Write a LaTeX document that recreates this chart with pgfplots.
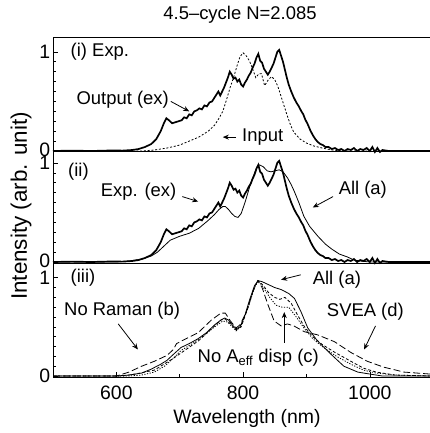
\documentclass[border=0pt]{standalone}
\usepackage{fontspec}
\setmainfont{Liberation Sans}
\usepackage{pgfplots}
\usepackage{pgfplotstable}
\pgfplotsset{compat=1.18}
\usetikzlibrary{arrows.meta}

\pgfplotstableread{
x y
500 0.0
530 0.004
560 0.0
590 0.005
610 0.004
625 0.01
635 0.02
645 0.04
655 0.07
663 0.12
670 0.20
675 0.28
679 0.33
683 0.31
688 0.28
693 0.29
698 0.30
703 0.31
707 0.34
711 0.33
715 0.37
719 0.36
723 0.40
727 0.41
731 0.43
735 0.42
739 0.46
743 0.45
747 0.49
751 0.50
755 0.54
758 0.57
761 0.60
764 0.56
767 0.60
770 0.64
773 0.69
776 0.74
779 0.80
782 0.77
785 0.73
788 0.74
791 0.70
794 0.72
797 0.67
800 0.65
803 0.69
806 0.72
809 0.76
812 0.79
815 0.84
818 0.88
821 0.94
824 0.98
827 0.91
830 0.89
833 0.83
836 0.80
839 0.77
842 0.80
845 0.84
848 0.88
851 0.94
854 1.00
857 1.02
860 0.96
863 0.90
866 0.82
869 0.74
872 0.67
876 0.60
880 0.54
884 0.49
888 0.45
892 0.40
895 0.37
898 0.32
902 0.27
906 0.21
910 0.16
914 0.12
918 0.09
922 0.07
926 0.06
930 0.04
935 0.04
940 0.02
945 0.03
950 0.01
955 0.02
960 0.0
965 0.02
970 0.01
975 0.03
980 0.0
985 0.02
990 0.01
995 0.03
1000 0.0
1004 0.04
1008 -0.01
1012 0.03
1016 -0.01
1020 0.01
1030 0.0
1095 0.0
}\expdata

\pgfplotstableread{
x y
500 0.0
640 0.0
660 0.01
680 0.03
700 0.06
715 0.10
730 0.14
745 0.20
755 0.26
762 0.33
768 0.40
774 0.52
780 0.65
785 0.74
790 0.85
795 0.95
800 0.99
805 0.96
810 0.91
815 0.83
820 0.74
825 0.78
829 0.78
834 0.66
840 0.72
845 0.75
850 0.72
855 0.65
860 0.55
865 0.45
870 0.35
875 0.26
880 0.19
890 0.12
900 0.08
912 0.05
925 0.03
940 0.01
960 0.0
1095 0.0
}\inputdata

\pgfplotstableread{
x y
500 0.0
600 0.0
620 0.01
640 0.03
655 0.06
665 0.10
675 0.16
685 0.22
700 0.26
715 0.29
730 0.34
745 0.42
755 0.48
762 0.53
768 0.56
772 0.56
777 0.53
782 0.49
787 0.46
792 0.45
797 0.49
803 0.60
810 0.75
817 0.88
822 0.96
826 0.98
832 0.96
838 0.92
844 0.91
850 0.92
857 0.93
863 0.91
870 0.85
876 0.78
881 0.71
888 0.60
896 0.46
905 0.36
918 0.26
930 0.18
940 0.13
952 0.08
965 0.05
975 0.02
985 0.01
1000 0.0
1095 0.0
}\simall

\pgfplotstableread{
x y
500 0.0
600 0.0
620 0.01
640 0.03
655 0.07
670 0.12
680 0.16
690 0.22
702 0.29
715 0.33
729 0.38
742 0.44
755 0.52
765 0.57
771 0.59
777 0.57
783 0.52
789 0.48
795 0.50
802 0.60
810 0.77
818 0.92
824 0.97
830 0.96
840 0.93
850 0.90
860 0.88
872 0.84
881 0.79
891 0.66
902 0.49
917 0.36
939 0.22
959 0.10
981 0.04
1000 0.02
1020 0.0
1095 0.0
}\cA

\pgfplotstableread{
x y
500 0.0
600 0.0
620 0.04
640 0.10
660 0.15
680 0.21
690 0.27
695 0.33
710 0.38
729 0.44
750 0.57
765 0.64
772 0.64
780 0.56
789 0.49
795 0.52
805 0.65
815 0.85
823 0.97
830 0.90
839 0.73
849 0.56
860 0.51
870 0.53
880 0.51
897 0.45
917 0.42
944 0.35
970 0.24
996 0.15
1022 0.09
1054 0.04
1095 0.02
}\cB

\pgfplotstableread{
x y
500 0.0
620 0.0
640 0.01
660 0.04
676 0.10
690 0.18
702 0.26
720 0.33
740 0.42
755 0.50
768 0.56
775 0.55
783 0.50
789 0.46
796 0.50
808 0.70
818 0.90
824 0.97
832 0.90
842 0.80
852 0.72
862 0.70
872 0.70
884 0.60
897 0.48
910 0.38
925 0.30
945 0.21
970 0.12
990 0.06
1010 0.03
1040 0.01
1095 0.0
}\cC

\pgfplotstableread{
x y
500 0.0
610 0.0
630 0.02
660 0.06
690 0.18
710 0.27
730 0.36
750 0.48
765 0.57
772 0.58
780 0.53
789 0.47
797 0.50
808 0.70
818 0.91
824 0.97
832 0.92
840 0.85
850 0.80
858 0.78
866 0.80
876 0.74
886 0.62
897 0.50
910 0.40
925 0.32
945 0.24
970 0.15
990 0.08
1010 0.04
1040 0.01
1095 0.0
}\cD

\tikzset{
  ann/.style={-{Stealth[length=6bp,width=5bp]}, line width=0.8pt},
  thick exp/.style={black, line width=1.7pt},
  thin sim/.style={black, line width=0.8pt},
}

\begin{document}
\fontsize{18.5}{22}\selectfont
\begin{tikzpicture}
\path[use as bounding box] (-53bp,-56bp) rectangle (377bp,377bp);
\pgfplotsset{
  panel/.style={
    width=377bp, scale only axis,
    xmin=500, xmax=1095, ymin=-0.01,
    axis x line*=box, axis y line*=left,
    axis line style={line width=1pt},
    ytick={0,1}, minor ytick={0.1,0.2,...,0.9},
    tick align=inside,
    major tick length=5bp, minor tick length=3bp,
    every tick/.style={black, line width=0.6pt},
    xtick=\empty,
    clip=false,
    /pgf/number format/assume math mode=true,
    /pgf/number format/1000 sep={},
    tick label style={font=\fontsize{19.5}{22}\selectfont},
    yticklabel style={inner sep=0pt, xshift=-2.5bp},
  },
}

% panel (iii)
\begin{axis}[panel, at={(0,0)}, height=114bp, ymax=1.15,
  yticklabels={0,\raisebox{-2bp}{1}},
  xtick={600,800,1000}, minor xtick={700,900}, xtick pos=bottom,
  xticklabel style={yshift=-3bp}]
\addplot[thin sim] table {\cA};
\addplot[thin sim, dash pattern=on 7pt off 3pt] table {\cB};
\addplot[thin sim, dash pattern=on 1.2pt off 1.5pt] table {\cC};
\addplot[thin sim, dash pattern=on 3pt off 2pt] table {\cD};
\node[anchor=west] at (axis cs:518,1.0) {(iii)};
\node at (axis cs:948,0.98) {All (a)};
\draw[ann] (axis cs:891,1.03) -- (axis cs:860,0.98);
\node at (axis cs:609,0.66) {No Raman (b)};
\draw[ann] (axis cs:603,0.53) -- (axis cs:634,0.27);
\node at (axis cs:824,0.19) {No A\textsubscript{eff} disp (c)};
\draw[ann] (axis cs:865,0.34) -- (axis cs:865,0.65);
\node at (axis cs:993,0.65) {SVEA (d)};
\draw[ann] (axis cs:1009,0.51) -- (axis cs:991,0.27);
\end{axis}

% panel (ii)
\begin{axis}[panel, at={(0,114bp)}, height=111bp, ymax=1.11,
  yticklabels={\raisebox{2bp}{0},\raisebox{-2bp}{1}}]
\addplot[thick exp] table {\expdata};
\addplot[thin sim] table {\simall};
\node[anchor=west] at (axis cs:514,0.91) {(ii)};
\node at (axis cs:635,0.71) {Exp. (ex)};
\draw[ann] (axis cs:704,0.66) -- (axis cs:729,0.61);
\node at (axis cs:989,0.73) {All (a)};
\draw[ann] (axis cs:942,0.66) -- (axis cs:910,0.55);
\end{axis}

% panel (i)
\begin{axis}[panel, at={(0,225bp)}, height=114bp, ymax=1.14,
  yticklabels={\raisebox{2bp}{0},1}]
\addplot[thick exp] table {\expdata};
\addplot[thin sim, dash pattern=on 2pt off 1.8pt] table {\inputdata};
\node[anchor=west] at (axis cs:518,1.0) {(i) Exp.};
\node at (axis cs:610,0.52) {Output (ex)};
\draw[ann] (axis cs:686,0.50) -- (axis cs:715,0.40);
\node at (axis cs:831,0.14) {Input};
\draw[ann] (axis cs:789,0.14) -- (axis cs:768,0.14);
\node at (rel axis cs:0.496,1) [yshift=23bp] {4.5–cycle N=2.085};
\end{axis}

\node[rotate=90, font=\fontsize{22.5}{26}\selectfont] at (-32bp,171bp) {Intensity (arb. unit)};
\node[font=\fontsize{19.5}{23}\selectfont] at (194bp,-41bp) {Wavelength (nm)};
\end{tikzpicture}
\end{document}
